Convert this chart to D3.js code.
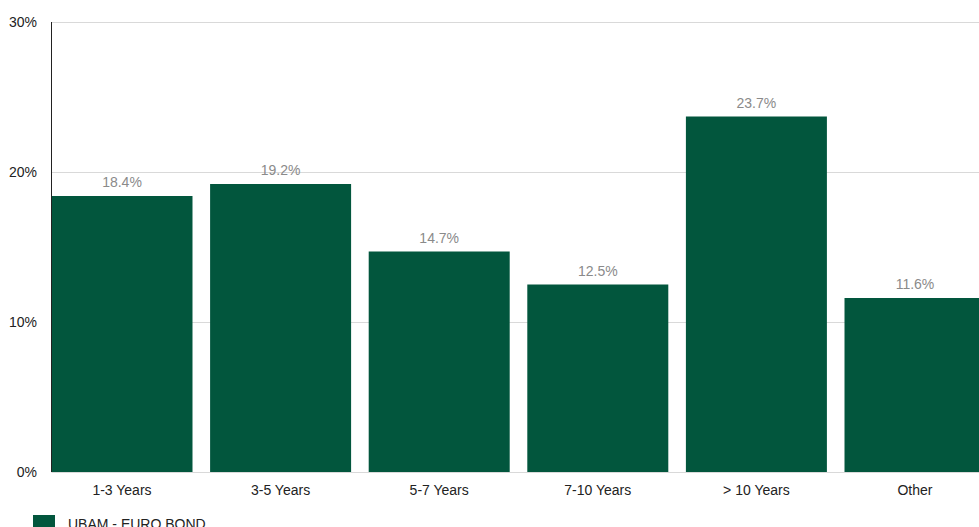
<!DOCTYPE html>
<html>
<head>
<meta charset="utf-8">
<script src="https://cdn.jsdelivr.net/npm/d3@7"></script>
<style>
  body { margin: 0; background: #fff; overflow: hidden; }
  svg text { font-family: "Liberation Sans", Helvetica, Arial, sans-serif; }
</style>
</head>
<body>
<div id="container"></div>
<script>
const categories = ["1-3 Years", "3-5 Years", "5-7 Years", "7-10 Years", "> 10 Years", "Other"]
const values = [18.4, 19.2, 14.7, 12.5, 23.7, 11.6]
const yTicks = [0, 10, 20, 30]
const seriesName = "UBAM - EURO BOND"

const width = 979, height = 527
const plotLeft = 51.5, plotTop = 22, plotBottom = 472

const svg = d3.select("div#container")
    .append("svg")
    .attr("width", width)
    .attr("height", height)

const x = d3.scaleBand()
    .domain(categories)
    .range([plotLeft, 985.5])
    .paddingInner(0.111)
    .paddingOuter(0)

const y = d3.scaleLinear()
    .domain([0, 30])
    .range([plotBottom, plotTop])

// grid lines
svg.append("g")
    .selectAll("line")
    .data(yTicks)
    .enter()
    .append("line")
    .attr("x1", plotLeft)
    .attr("x2", width)
    .attr("y1", d => Math.round(y(d)) + 0.5)
    .attr("y2", d => Math.round(y(d)) + 0.5)
    .attr("stroke", "#d9d9d9")
    .attr("stroke-width", 1)

// y tick labels
svg.append("g")
    .selectAll("text")
    .data(yTicks)
    .enter()
    .append("text")
    .attr("x", 37)
    .attr("y", d => y(d) + 5)
    .attr("text-anchor", "end")
    .style("font-size", "14px")
    .style("fill", "#222")
    .text(d => d + "%")

// bars
svg.append("g")
    .selectAll("rect")
    .data(values)
    .enter()
    .append("rect")
    .attr("x", (d, i) => x(categories[i]))
    .attr("width", x.bandwidth())
    .attr("y", d => y(d))
    .attr("height", d => y(0) - y(d))
    .attr("fill", "#02563d")

// value labels
svg.append("g")
    .selectAll("text")
    .data(values)
    .enter()
    .append("text")
    .attr("x", (d, i) => x(categories[i]) + x.bandwidth() / 2)
    .attr("y", d => y(d) - 9)
    .attr("text-anchor", "middle")
    .style("font-size", "14px")
    .style("fill", "#8a8a8a")
    .text(d => d.toFixed(1) + "%")

// left axis line
svg.append("line")
    .attr("x1", plotLeft)
    .attr("x2", plotLeft)
    .attr("y1", y(30))
    .attr("y2", y(0))
    .attr("stroke", "#222")
    .attr("stroke-width", 1)

// x labels
svg.append("g")
    .selectAll("text")
    .data(categories)
    .enter()
    .append("text")
    .attr("x", d => x(d) + x.bandwidth() / 2)
    .attr("y", 495)
    .attr("text-anchor", "middle")
    .style("font-size", "14px")
    .style("fill", "#222")
    .text(d => d)

// legend
const legend = svg.append("g")
legend.append("rect")
    .attr("x", 33)
    .attr("y", 515)
    .attr("width", 22)
    .attr("height", 14)
    .attr("fill", "#02563d")
legend.append("text")
    .attr("x", 68)
    .attr("y", 529)
    .style("font-size", "14px")
    .style("fill", "#222")
    .text(seriesName)
</script>
</body>
</html>
